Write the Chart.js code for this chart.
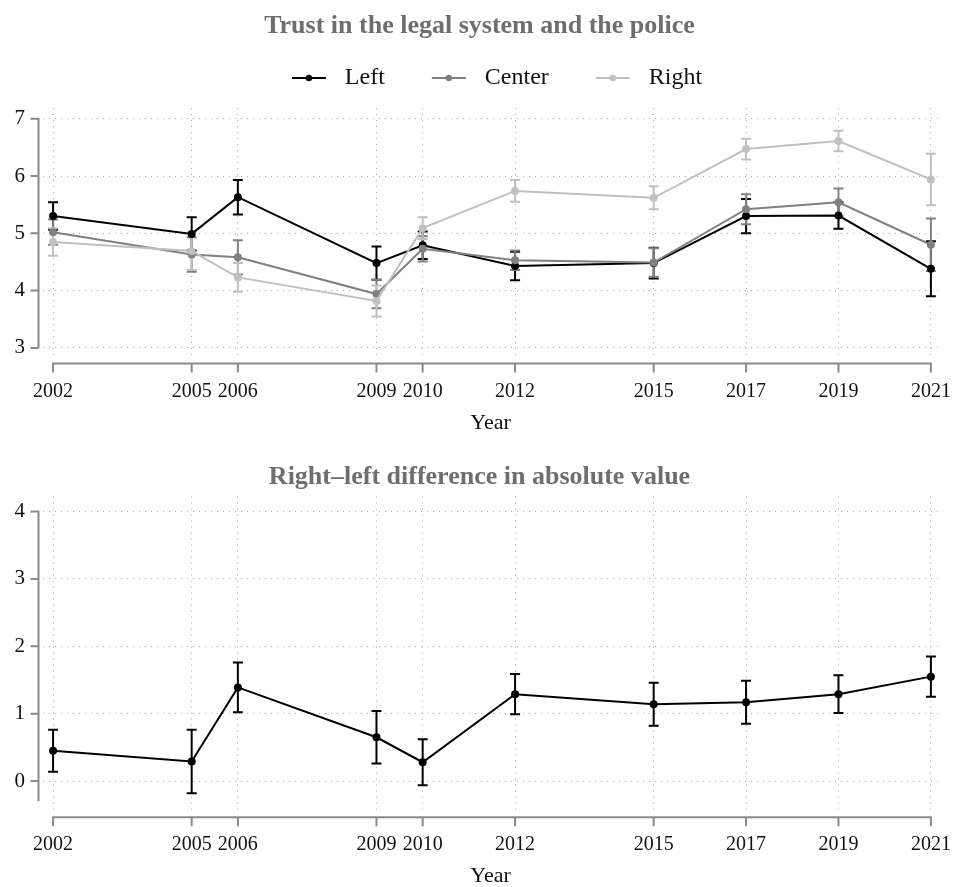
<!DOCTYPE html>
<html>
<head>
<meta charset="utf-8">
<script src="https://cdn.jsdelivr.net/npm/chart.js@4/dist/chart.umd.min.js"></script>
<style>
  html, body { margin: 0; padding: 0; background: #ffffff; overflow: hidden; }
  canvas { position: absolute; left: 0; }
  #trust { top: 0; }
  #gap { top: 438px; }
</style>
</head>
<body>
<canvas id="trust" width="974" height="438"></canvas>
<canvas id="gap" width="974" height="451"></canvas>
<script>
// Survey waves
const years = [2002, 2005, 2006, 2009, 2010, 2012, 2015, 2017, 2019, 2021];

// Mean trust (0-10 scale) by political self-placement, with 95% CI half-widths
const leftMean   = [5.30, 4.99, 5.63, 4.48, 4.79, 4.43, 4.48, 5.30, 5.31, 4.38];
const leftCI     = [0.24, 0.29, 0.30, 0.29, 0.24, 0.25, 0.27, 0.30, 0.23, 0.48];
const centerMean = [5.02, 4.63, 4.58, 3.94, 4.73, 4.53, 4.49, 5.42, 5.54, 4.80];
const centerCI   = [0.22, 0.30, 0.30, 0.25, 0.22, 0.17, 0.25, 0.26, 0.24, 0.46];
const rightMean  = [4.85, 4.69, 4.23, 3.82, 5.09, 5.74, 5.62, 6.47, 6.61, 5.94];
const rightCI    = [0.24, 0.33, 0.25, 0.27, 0.19, 0.19, 0.20, 0.18, 0.18, 0.45];

// Absolute right-left gap, with 95% CI half-widths
const gapMean = [0.45, 0.29, 1.39, 0.65, 0.28, 1.29, 1.14, 1.17, 1.29, 1.55];
const gapCI   = [0.31, 0.47, 0.37, 0.39, 0.34, 0.30, 0.32, 0.32, 0.28, 0.30];

// Axis tick labels
const trustTicks = [3, 4, 5, 6, 7];
const gapTicks = [0, 1, 2, 3, 4];

const FONT = "'Liberation Serif', 'DejaVu Serif', serif";
const INK = '#111111';
const AXIS = '#8a8a8a';
const GRID = '#a8a8a8';
const TITLE = '#6e6e6e';
const COLORS = { left: '#000000', center: '#808080', right: '#c0c0c0' };

Chart.defaults.font.family = FONT;

// Confidence-interval caps, drawn under every line
const errorBars = {
  id: 'errorBars',
  beforeDatasetsDraw(chart) {
    const { ctx, scales: { x, y } } = chart;
    chart.data.datasets.forEach(ds => {
      if (!ds.ci) return;
      ctx.save();
      ctx.strokeStyle = ds.borderColor;
      ctx.lineWidth = 2;
      ds.data.forEach((d, i) => {
        const px = x.getPixelForValue(d.x);
        const hi = y.getPixelForValue(d.y + ds.ci[i]);
        const lo = y.getPixelForValue(d.y - ds.ci[i]);
        ctx.beginPath();
        ctx.moveTo(px, hi); ctx.lineTo(px, lo);
        ctx.moveTo(px - 5, hi); ctx.lineTo(px + 5, hi);
        ctx.moveTo(px - 5, lo); ctx.lineTo(px + 5, lo);
        ctx.stroke();
      });
      ctx.restore();
    });
  }
};

// Detached axis lines that only span the labelled range
const rangeAxes = {
  id: 'rangeAxes',
  afterDraw(chart, args, opts) {
    const { ctx, chartArea, scales: { x, y } } = chart;
    ctx.save();
    ctx.strokeStyle = AXIS;
    ctx.lineWidth = 2;
    ctx.lineCap = 'butt';
    const ax = chartArea.left - 4.5;
    const yA = y.getPixelForValue(opts.ySpan[1]);
    const yB = y.getPixelForValue(opts.ySpan[0]);
    ctx.beginPath();
    ctx.moveTo(ax, yA - 1); ctx.lineTo(ax, yB);
    opts.yTicks.forEach(v => {
      const py = y.getPixelForValue(v);
      ctx.moveTo(ax - 8, py); ctx.lineTo(ax, py);
    });
    const ay = chartArea.bottom + opts.xGap;
    ctx.moveTo(x.getPixelForValue(years[0]) - 1, ay);
    ctx.lineTo(x.getPixelForValue(years[years.length - 1]) + 1, ay);
    years.forEach(v => {
      const px = x.getPixelForValue(v);
      ctx.moveTo(px, ay); ctx.lineTo(px, ay + 9);
    });
    ctx.stroke();
    ctx.restore();
  }
};

// Small line-and-dot legend marker
function legendMarker(color) {
  const c = document.createElement('canvas');
  c.width = 76; c.height = 12;
  const g = c.getContext('2d');
  g.strokeStyle = color; g.lineWidth = 2;
  g.beginPath(); g.moveTo(35, 6); g.lineTo(69, 6); g.stroke();
  g.fillStyle = color;
  g.beginPath(); g.arc(52, 6, 3.2, 0, Math.PI * 2); g.fill();
  return c;
}

function series(label, means, ci, color, order) {
  return {
    label,
    data: years.map((yr, i) => ({ x: yr, y: means[i] })),
    ci,
    order,
    borderColor: color,
    backgroundColor: color,
    pointBackgroundColor: color,
    pointBorderColor: color,
    pointBorderWidth: 0,
    pointRadius: 4,
    pointHoverRadius: 4,
    borderWidth: 2,
    tension: 0,
    clip: false
  };
}

function xScale() {
  return {
    type: 'linear',
    min: 2001.782,
    max: 2021.154,
    afterBuildTicks: s => { s.ticks = years.map(v => ({ value: v })); },
    afterFit: s => { s.height = 79.2; },
    ticks: {
      autoSkip: false, maxRotation: 0, padding: 23, color: INK,
      font: { family: FONT, size: 20 },
      callback: v => String(v)
    },
    grid: { color: GRID, lineWidth: 1, drawTicks: false },
    border: { display: false, dash: [1, 5] },
    title: {
      display: true, text: 'Year', color: INK,
      font: { family: FONT, size: 22, lineHeight: 1.2 },
      padding: { top: 5.8, bottom: 0 }
    }
  };
}

function yScale(min, max, tickValues) {
  return {
    type: 'linear',
    min, max,
    afterBuildTicks: s => { s.ticks = tickValues.map(v => ({ value: v })); },
    afterFit: s => { s.width = 43; },
    ticks: { padding: 18, color: INK, font: { family: FONT, size: 21 } },
    grid: { color: GRID, lineWidth: 1, drawTicks: false },
    border: { display: false, dash: [1, 5] }
  };
}

const titleFont = { family: FONT, size: 26, weight: 'bold', lineHeight: 1.2 };

new Chart(document.getElementById('trust'), {
  type: 'line',
  data: {
    datasets: [
      series('Left', leftMean, leftCI, COLORS.left, 2),
      series('Center', centerMean, centerCI, COLORS.center, 1),
      series('Right', rightMean, rightCI, COLORS.right, 0)
    ]
  },
  options: {
    responsive: false,
    animation: false,
    devicePixelRatio: 1,
    layout: { padding: { left: 0, right: 15, top: 0, bottom: 1.8 } },
    scales: { x: xScale(), y: yScale(2.841, 7.187, trustTicks) },
    plugins: {
      tooltip: { enabled: false },
      title: {
        display: true, text: 'Trust in the legal system and the police',
        color: TITLE, font: titleFont, padding: { top: 10.4, bottom: 12.4 }
      },
      legend: {
        display: true,
        position: 'top',
        labels: {
          usePointStyle: true,
          pointStyleWidth: 76,
          padding: 12,
          color: INK,
          font: { family: FONT, size: 24 },
          generateLabels(chart) {
            const items = Chart.defaults.plugins.legend.labels.generateLabels(chart);
            items.forEach(it => {
              it.pointStyle = legendMarker(chart.data.datasets[it.datasetIndex].borderColor);
            });
            return items.sort((a, b) => a.datasetIndex - b.datasetIndex);
          }
        }
      },
      subtitle: {
        display: true, text: '', weight: 500,
        font: { size: 8, lineHeight: 1 }, padding: 0
      },
      rangeAxes: { ySpan: [3, 7], yTicks: trustTicks, xGap: 6.5 }
    }
  },
  plugins: [errorBars, rangeAxes]
});

new Chart(document.getElementById('gap'), {
  type: 'line',
  data: {
    datasets: [series('Right–left difference', gapMean, gapCI, '#000000', 0)]
  },
  options: {
    responsive: false,
    animation: false,
    devicePixelRatio: 1,
    layout: { padding: { left: 0, right: 15, top: 0, bottom: 0 } },
    scales: { x: xScale(), y: yScale(-0.426, 4.22, gapTicks) },
    plugins: {
      tooltip: { enabled: false },
      legend: { display: false },
      title: {
        display: true, text: 'Right–left difference in absolute value',
        color: TITLE, font: titleFont, padding: { top: 23.4, bottom: 4.1 }
      },
      rangeAxes: { ySpan: [-0.3, 4], yTicks: gapTicks, xGap: 7.5 }
    }
  },
  plugins: [errorBars, rangeAxes]
});
</script>
</body>
</html>
